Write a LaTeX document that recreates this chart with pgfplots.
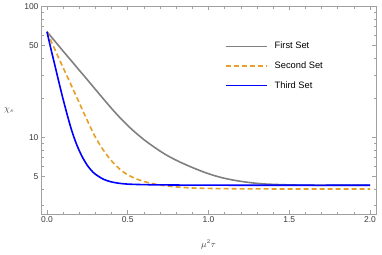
\documentclass[border=0pt]{standalone}
\usepackage{pgfplots}
\pgfplotsset{compat=1.18}
\usepackage{fontspec}
\setmainfont{Liberation Sans}
\definecolor{cgray}{RGB}{128,128,128}
\definecolor{corange}{RGB}{230,159,40}
\definecolor{cblue}{RGB}{0,0,255}
\definecolor{cframe}{RGB}{160,160,160}
\definecolor{ctext}{RGB}{60,60,60}
\begin{document}
\begin{tikzpicture}
\begin{axis}[
  scale only axis,
  width=335pt, height=208pt,
  xmin=-0.037, xmax=2.037,
  ymode=log, ymin=2.58, ymax=100,
  axis line style={cframe, line width=0.8pt},
  xtick={0,0.5,1,1.5,2},
  xticklabels={0.0,0.5,1.0,1.5,2.0},
  minor x tick num=4,
  ytick={5,10,50,100},
  yticklabels={5,10,50,100},
  minor ytick={3,4,6,7,8,9,20,30,40,60,70,80,90},
  tick align=inside,
  major tick length=4pt,
  minor tick length=2.5pt,
  every tick/.style={cframe, line width=0.6pt},
  xticklabel pos=lower, yticklabel pos=left,
  tick label style={color=ctext, font=\fontsize{8.5}{10}\selectfont},
  /pgf/number format/assume math mode=true,
  xticklabel style={yshift=1pt},
  yticklabel style={xshift=1pt},
  xlabel={$\mu^2\tau$},
  xlabel style={at={(rel axis cs:0.5,-0.145)}, anchor=center, color=ctext, font=\fontsize{9}{10}\selectfont},
  ylabel={$\chi_s$},
  ylabel style={at={(rel axis cs:-0.0955,0.5)}, anchor=center, rotate=-90, color=ctext, font=\fontsize{9}{10}\selectfont},
  legend image code/.code={\draw[#1] (0pt,0pt) -- (41pt,0pt);},
  legend style={draw=none, fill=none, at={(rel axis cs:0.549,0.838)}, anchor=north west,
    font=\fontsize{9.3}{11}\selectfont, row sep=7.3pt, inner sep=0pt, column sep=5pt},
  legend cell align=left,
  clip=false,
]
\addplot[cgray, line width=1.6pt, smooth] coordinates {
(0,64) (0.05,54) (0.1,45.5) (0.15,38.5) (0.2,32.5) (0.25,27.5) (0.3,23.2) (0.35,19.6) (0.4,16.6) (0.45,14.2) (0.5,12.3) (0.55,10.8) (0.6,9.6) (0.65,8.65) (0.7,7.85) (0.75,7.2) (0.8,6.68) (0.85,6.25) (0.9,5.88) (0.95,5.55) (1.0,5.27) (1.05,5.04) (1.1,4.86) (1.15,4.72) (1.2,4.61) (1.25,4.52) (1.3,4.45) (1.35,4.40) (1.4,4.37) (1.5,4.33) (1.6,4.31) (1.8,4.30) (2.0,4.30)
};
\addlegendentry{First Set}
\addplot[corange, line width=1.6pt, dash pattern=on 5pt off 3pt, smooth] coordinates {
(0,64) (0.05,46.5) (0.1,34.0) (0.15,25.0) (0.2,18.3) (0.25,13.4) (0.3,10.0) (0.35,7.95) (0.4,6.6) (0.45,5.72) (0.5,5.17) (0.55,4.83) (0.6,4.60) (0.65,4.44) (0.7,4.32) (0.75,4.24) (0.8,4.18) (0.9,4.10) (1.0,4.07) (1.2,4.04) (1.5,4.03) (2.0,4.03)
};
\addlegendentry{Second Set}
\addplot[cblue, line width=1.6pt, smooth] coordinates {
(0,64) (0.025,47) (0.05,35) (0.075,26) (0.1,19.5) (0.125,14.9) (0.15,11.6) (0.175,9.4) (0.2,7.9) (0.225,6.85) (0.25,6.1) (0.275,5.58) (0.3,5.22) (0.35,4.78) (0.4,4.56) (0.45,4.45) (0.5,4.39) (0.6,4.35) (0.8,4.32) (1.0,4.31) (1.5,4.30) (2.0,4.30)
};
\addlegendentry{Third Set}
\path (rel axis cs:-0.12239,-0.19231) rectangle (rel axis cs:1.01791,1.02404);
\end{axis}
\end{tikzpicture}
\end{document}
